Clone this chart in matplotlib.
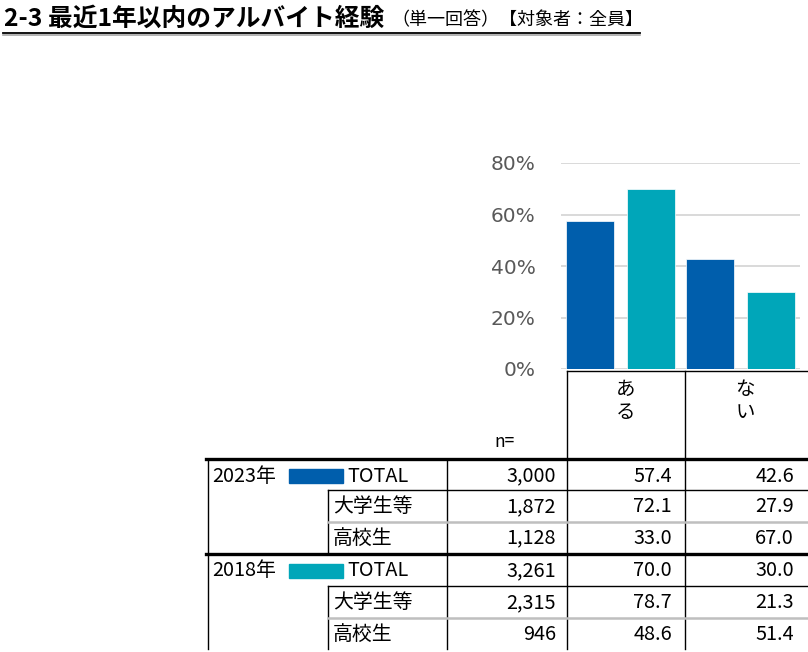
import matplotlib
matplotlib.use("Agg")
import matplotlib.pyplot as plt
from matplotlib.patches import Rectangle

plt.rcParams["font.family"] = ["Noto Sans CJK JP", "DejaVu Sans"]

# data
categories = ["ある", "ない"]
series_names = ["2023年", "2018年"]
total_2023 = [57.4, 42.6]
total_2018 = [70.0, 30.0]
sub_labels = ["TOTAL", "大学生等", "高校生"]
n_2023 = ["3,000", "1,872", "1,128"]
n_2018 = ["3,261", "2,315", "946"]
aru_2023 = [57.4, 72.1, 33.0]
nai_2023 = [42.6, 27.9, 67.0]
aru_2018 = [70.0, 78.7, 48.6]
nai_2018 = [30.0, 21.3, 51.4]
yticks = [0, 20, 40, 60, 80]

BLUE = "#005EAC"
TEAL = "#00A6B9"
W, H = 808, 652

fig = plt.figure(figsize=(W / 100, H / 100), dpi=100)

# bar chart
ax = fig.add_axes([560.7 / W, (H - 369) / H, 239.3 / W, 206 / H])
x = range(len(categories))
bw, off = 0.40, 0.255
ax.bar([i - off for i in x], total_2023, bw, color=BLUE, edgecolor="white", linewidth=0.5, zorder=3)
ax.bar([i + off for i in x], total_2018, bw, color=TEAL, edgecolor="white", linewidth=0.5, zorder=3)
ax.set_xlim(-0.5, 1.5)
ax.set_ylim(0, 80)
ax.set_yticks(yticks)
ax.set_yticklabels([f"{v}%" for v in yticks], color="#595959", fontsize=14.5,
                   family=["DejaVu Sans"])
ax.tick_params(axis="y", length=0, pad=18)
ax.set_xticks([])
ax.grid(axis="y", color="#D9D9D9", linewidth=1.4, zorder=0)
for s in ax.spines.values():
    s.set_visible(False)

# overlay in pixel coordinates for title and table
ov = fig.add_axes([0, 0, 1, 1], zorder=-1)
ov.set_xlim(0, W)
ov.set_ylim(H, 0)
ov.axis("off")

ov.text(4, 19, "2-3 最近1年以内のアルバイト経験", fontsize=17.8, fontweight="bold",
        va="center", ha="left")
ov.text(391, 20, "（単一回答）【対象者：全員】", fontsize=13, va="center", ha="left")
ov.plot([3, 640], [33, 33], color="black", lw=1.3)
ov.plot([3, 640], [35, 35], color="#A6A6A6", lw=1.2)

# table lines
blk = dict(color="black", lw=1.0)
ov.plot([567, W], [371, 371], **blk)
for xv in (567, 685):
    ov.plot([xv, xv], [371, 649], **blk)
ov.plot([208, 208], [459, 649], **blk)
ov.plot([447, 447], [459, 649], **blk)
ov.plot([328, 328], [490, 554], **blk)
ov.plot([328, 328], [586, 649], **blk)
for yv in (459, 554):
    ov.plot([206, W], [yv, yv], color="black", lw=2.4)
for yv in (490, 586):
    ov.plot([328, W], [yv, yv], **blk)
for yv in (522, 618):
    ov.plot([328, W], [yv, yv], color="#BFBFBF", lw=1.8)

# header
for i, cat in enumerate(categories):
    cx = 626 + i * 119
    ov.text(cx, 401, "\n".join(cat), fontsize=14, ha="center", va="center", linespacing=1.15)
ov.text(494, 442, "n=", fontsize=12.5, ha="left", va="center")

# body
groups = [
    (series_names[0], BLUE, n_2023, aru_2023, nai_2023, [476, 507, 538]),
    (series_names[1], TEAL, n_2018, aru_2018, nai_2018, [571, 603, 634]),
]
fs = 14.3
for name, col, ns, aru, nai, ys in groups:
    ov.text(212, ys[0], name, fontsize=fs, ha="left", va="center")
    ov.add_patch(Rectangle((289, ys[0] - 7), 54, 14, color=col))
    for j, lab in enumerate(sub_labels):
        lx = 347 if j == 0 else 333
        ov.text(lx, ys[j], lab, fontsize=fs, ha="left", va="center")
        ov.text(556, ys[j], ns[j], fontsize=fs, ha="right", va="center")
        ov.text(672, ys[j], f"{aru[j]:.1f}", fontsize=fs, ha="right", va="center")
        ov.text(794, ys[j], f"{nai[j]:.1f}", fontsize=fs, ha="right", va="center")

fig.savefig("out.png", dpi=100, facecolor="white")
